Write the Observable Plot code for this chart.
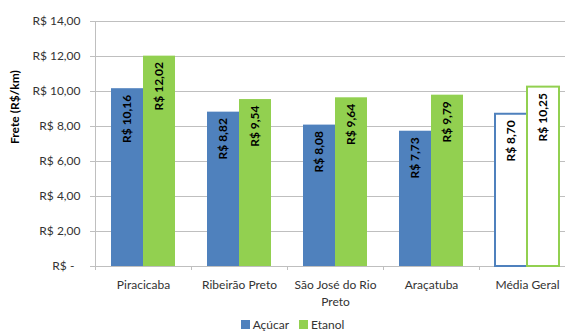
<!DOCTYPE html>
<html>
<head>
<meta charset="utf-8">
<script src="https://cdn.jsdelivr.net/npm/d3@7"></script>
<script src="https://cdn.jsdelivr.net/npm/@observablehq/plot@0.6"></script>
<style>
  html, body { margin: 0; padding: 0; background: #fff; }
  #chart { width: 565px; height: 333px; position: relative; font-family: Lato, "Open Sans", sans-serif; }
  .legend { height: 17px; display: flex; justify-content: center; align-items: center; padding-left: 20px; font-size: 12px; color: #333; }
  .legend span.sw { display: inline-block; width: 9px; height: 9px; margin-right: 3px; }
  .legend .item { display: inline-flex; align-items: center; margin: 0 5px; }
</style>
</head>
<body>
<div id="chart"></div>
<script>
const categories = ["Piracicaba", "Ribeirão Preto", "São José do Rio Preto", "Araçatuba", "Média Geral"];
const categoryLabels = ["Piracicaba", "Ribeirão Preto", "São José do Rio\nPreto", "Araçatuba", "Média Geral"];
const acucar = [10.16, 8.82, 8.08, 7.73, 8.70];
const etanol = [12.02, 9.54, 9.64, 9.79, 10.25];
const seriesNames = ["Açúcar", "Etanol"];
const seriesColors = ["#4f81bd", "#92d050"];
const yTicks = [0, 2, 4, 6, 8, 10, 12, 14];
const yTitle = "Frete (R$/km)";
const averageCategory = "Média Geral";

const fmt = v => v === 0 ? "R$ -\u00a0\u00a0" : "R$ " + v.toFixed(2).replace(".", ",");

const rows = categories.flatMap((c, i) => [
  {cat: c, serie: seriesNames[0], v: acucar[i]},
  {cat: c, serie: seriesNames[1], v: etanol[i]}
]);
const rowsA = rows.filter(d => d.serie === seriesNames[0]);
const rowsE = rows.filter(d => d.serie === seriesNames[1]);
const solid = rs => rs.filter(d => d.cat !== averageCategory);
const hollow = rs => rs.filter(d => d.cat === averageCategory);

const grid = "#bfbfbf";
const W = 565, H = 316;
const half = 32;

const plot = Plot.plot({
  width: W,
  height: H,
  marginTop: 21,
  marginBottom: 50,
  marginLeft: 95,
  marginRight: 0,
  style: {fontFamily: "Lato, 'Open Sans', sans-serif", fontSize: "12px", color: "#333", background: "white"},
  x: {type: "band", domain: categories, range: [95, 575], paddingInner: 1/3, paddingOuter: 1/6, axis: null},
  y: {domain: [0, 14], axis: null},
  marks: [
    Plot.ruleY(yTicks.filter(t => t > 0), {y: d => d, stroke: grid}),
    Plot.ruleY([0], {y: d => d, stroke: grid}),
    Plot.ruleX(categories.slice(0, 1), {x: d => d, dx: -48, y1: 14, y2: 0, stroke: grid, insetBottom: -4}),
    Plot.ruleX(categories.slice(1), {x: d => d, dx: -48, y1: 0, y2: 0, stroke: grid, insetBottom: -4}),
    Plot.axisY(yTicks, {anchor: "left", tickFormat: fmt, tickSize: 5, tickPadding: 10, stroke: grid, fill: "#333", fontSize: 12, label: null}),
    Plot.barY(solid(rowsA), {x: "cat", y: "v", fill: seriesColors[0], insetRight: half}),
    Plot.barY(solid(rowsE), {x: "cat", y: "v", fill: seriesColors[1], insetLeft: half}),
    Plot.barY(hollow(rowsA), {x: "cat", y: "v", fill: "white", stroke: seriesColors[0], strokeWidth: 2, insetRight: half}),
    Plot.barY(hollow(rowsE), {x: "cat", y: "v", fill: "white", stroke: seriesColors[1], strokeWidth: 2, insetLeft: half}),
    Plot.text(rowsA, {x: "cat", y: "v", text: d => fmt(d.v), rotate: -90, textAnchor: "end", dx: -16, dy: 6, fontWeight: "bold", fontSize: 12, fill: "black"}),
    Plot.text(rowsE, {x: "cat", y: "v", text: d => fmt(d.v), rotate: -90, textAnchor: "end", dx: 16, dy: 6, fontWeight: "bold", fontSize: 12, fill: "black"}),
    Plot.text(categories, {x: d => d, text: (d, i) => categoryLabels[i], frameAnchor: "bottom", lineAnchor: "top", dy: 10, lineHeight: 1.42, fontSize: 12, fill: "#333"}),
    Plot.text([yTitle], {text: d => d, frameAnchor: "left", rotate: -90, dx: -80, fontWeight: "bold", fontSize: 12, fill: "black"})
  ]
});

const chart = document.getElementById("chart");
chart.appendChild(plot);
const legend = document.createElement("div");
legend.className = "legend";
seriesNames.forEach((s, i) => {
  const item = document.createElement("span");
  item.className = "item";
  const sw = document.createElement("span");
  sw.className = "sw";
  sw.style.background = seriesColors[i];
  item.appendChild(sw);
  item.appendChild(document.createTextNode(s));
  legend.appendChild(item);
});
chart.appendChild(legend);
</script>
</body>
</html>
